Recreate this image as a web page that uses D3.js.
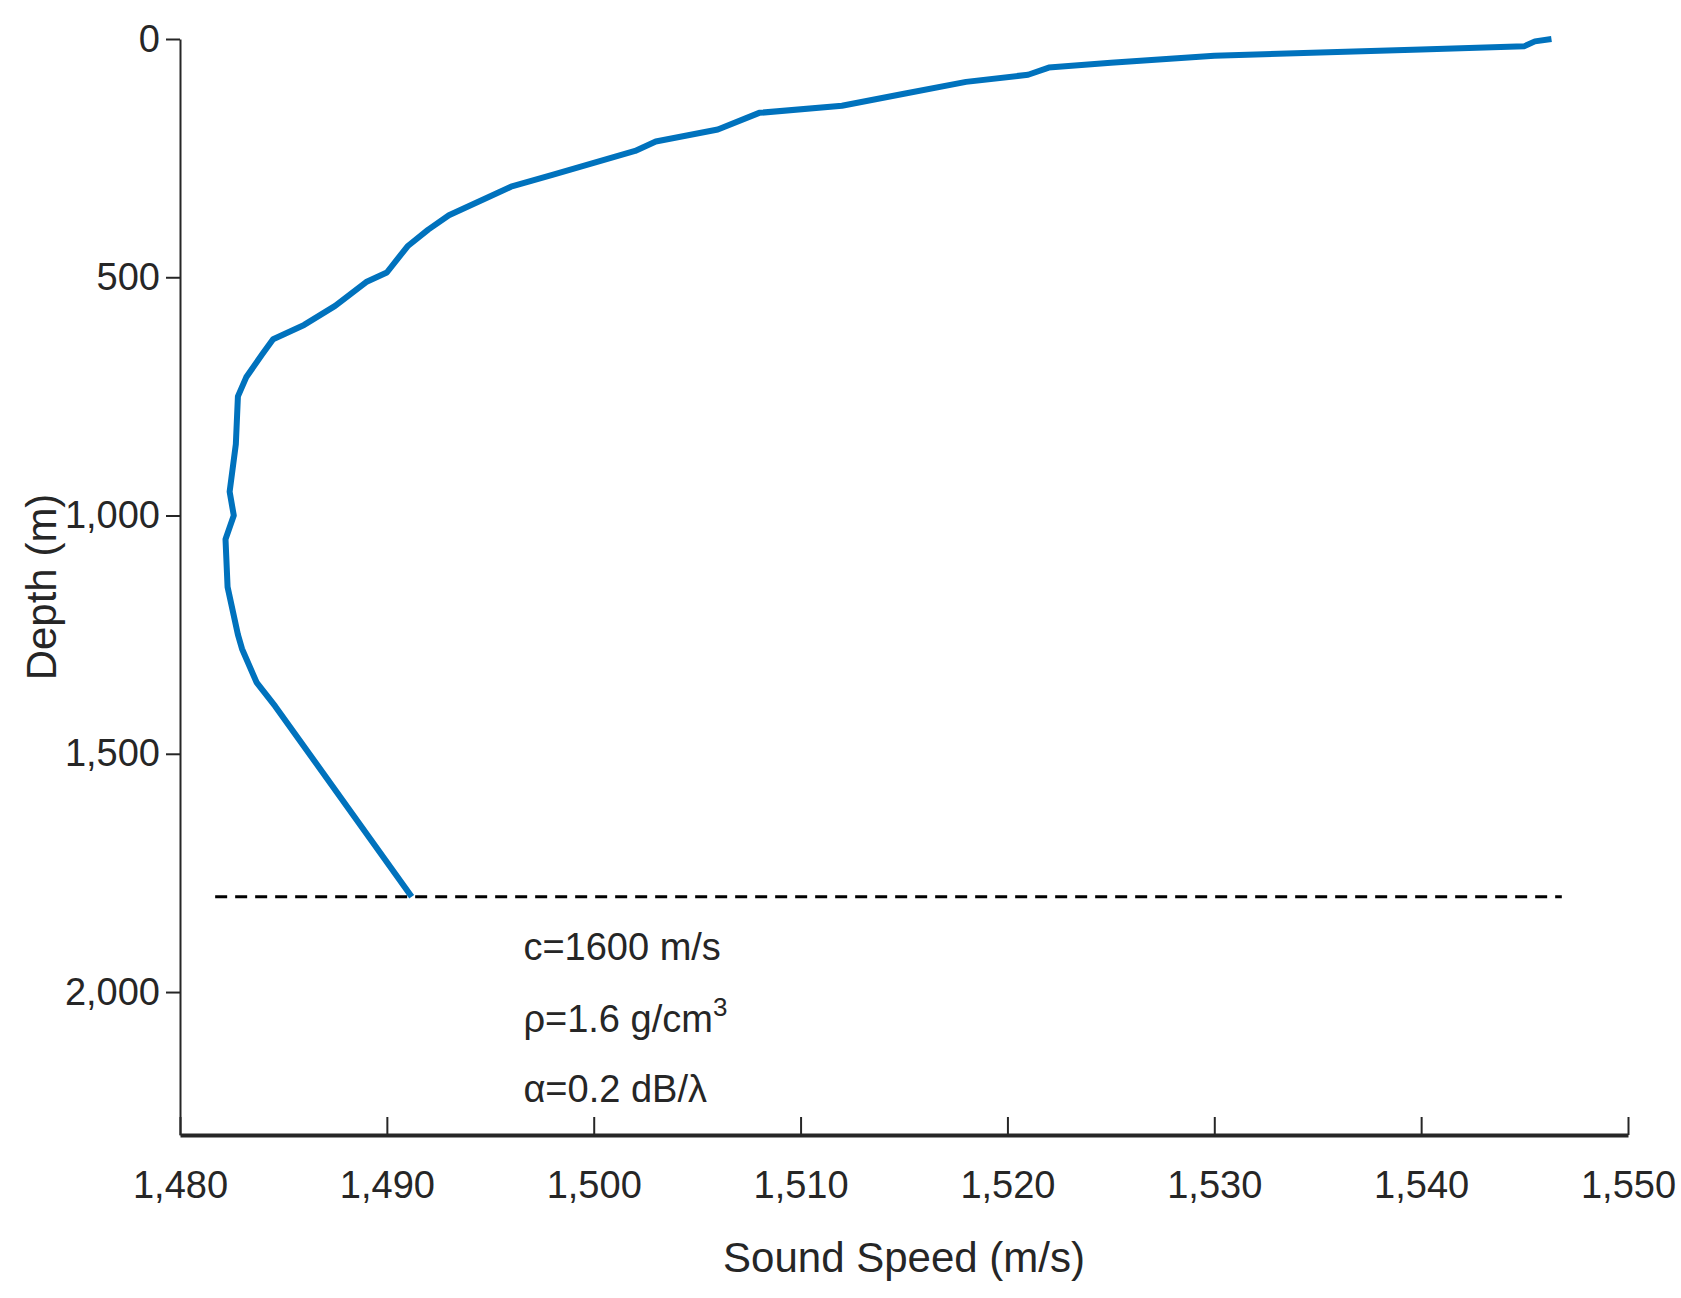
<!DOCTYPE html><html><head><meta charset="utf-8"><script src="https://cdn.jsdelivr.net/npm/d3@7"></script>
<style>body{margin:0;background:#fff}text{font-family:"Liberation Sans",Arial,sans-serif;fill:#262626}</style></head><body><svg id="c" width="1681" height="1298"></svg><script>
const speed=[1546.3,1545.5,1545,1540,1530,1525,1522,1521,1518,1515,1512,1508,1506,1503,1502,1500,1498,1496,1495,1493,1492,1491,1490,1489,1487.5,1486,1484.5,1484,1483.2,1482.8,1482.7,1482.4,1482.6,1482.2,1482.3,1482.8,1483,1483.7,1484.6,1491.2];
const depth=[0,5,15,22,35,50,60,75,90,115,140,155,190,215,235,260,285,310,330,370,400,435,490,510,560,600,630,660,710,750,850,950,1000,1050,1150,1250,1280,1350,1400,1800];
const xTicks=[1480,1490,1500,1510,1520,1530,1540,1550];
const yTicks=[0,500,1000,1500,2000];
const bottomDepth=1800;
const notes=["c=1600 m/s","ρ=1.6 g/cm","α=0.2 dB/λ"];
const svg=d3.select("#c");
const x=d3.scaleLinear().domain([1480,1550]).range([180,1628]);
const y=d3.scaleLinear().domain([0,2300]).range([39,1135]);
const gx=svg.append("g").attr("transform","translate(0,1135)").call(d3.axisBottom(x).tickValues(xTicks).tickSizeInner(-18).tickSizeOuter(0).tickPadding(36));
const gy=svg.append("g").attr("transform","translate(180,0)").call(d3.axisLeft(y).tickValues(yTicks).tickSizeInner(14).tickSizeOuter(0).tickPadding(6));
gy.selectAll(".tick line").attr("x2",-14);
[gx,gy].forEach(g=>{g.selectAll("text").attr("font-size",38).attr("font-family","Liberation Sans").attr("fill","#262626");g.selectAll("line,path").attr("stroke","#262626").attr("stroke-width",2);});
gx.select("path").attr("stroke-width",4);
svg.append("text").attr("x",x(1515)).attr("y",1272).attr("text-anchor","middle").attr("font-size",42).text("Sound Speed (m/s)");
svg.append("text").attr("transform",`translate(56,${y(1150)}) rotate(-90)`).attr("text-anchor","middle").attr("font-size",42).text("Depth (m)");
svg.append("line").attr("x1",x(1481.7)).attr("x2",x(1546.8)).attr("y1",y(bottomDepth)).attr("y2",y(bottomDepth)).attr("stroke","#000").attr("stroke-width",3).attr("stroke-dasharray","12,8");
svg.append("path").datum(d3.range(speed.length)).attr("fill","none").attr("stroke","#0072BD").attr("stroke-width",6).attr("stroke-linejoin","round")
 .attr("d",d3.line().x(i=>x(speed[i])).y(i=>y(depth[i])));
const ny=[960,1032,1102];
notes.forEach((t,i)=>{const tx=svg.append("text").attr("x",x(1496.6)).attr("y",ny[i]).attr("font-size",38).text(t);if(i==1)tx.append("tspan").attr("dy",-16).attr("font-size",26).text("3");});
</script></body></html>
